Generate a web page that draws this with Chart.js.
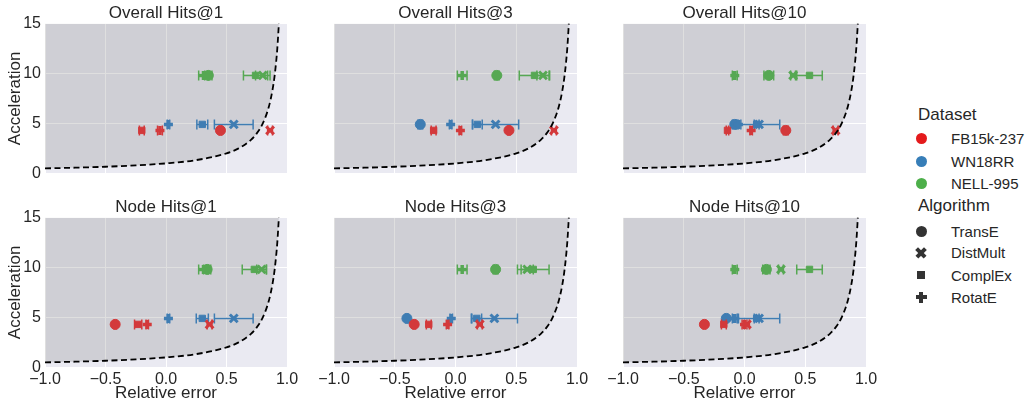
<!DOCTYPE html>
<html>
<head>
<meta charset="utf-8">
<script src="https://cdn.jsdelivr.net/npm/chart.js@4.4.0/dist/chart.umd.min.js"></script>
<style>
  body { margin: 0; background: #fff; width: 1027px; height: 404px; position: relative; overflow: hidden;
         font-family: 'Liberation Sans', Arial, sans-serif; color: #262626; }
  canvas { position: absolute; }
  .lg { position: absolute; white-space: nowrap; line-height: 1; }
  .mk { position: absolute; }
  .bar { position: absolute; left: 50%; top: 50%; }
</style>
</head>
<body>
<div id="legend"></div>
<script>
/* ---------- Datos ---------- */
const panelTitles  = ['Overall Hits@1', 'Overall Hits@3', 'Overall Hits@10', 'Node Hits@1', 'Node Hits@3', 'Node Hits@10'];
const datasetNames = ['FB15k-237', 'WN18RR', 'NELL-995'];
const algorithms   = ['TransE', 'DistMult', 'ComplEx', 'RotatE'];
const acceleration = [4.3, 4.9, 9.8];
const xTicks = [-1, -0.5, 0, 0.5, 1];
const yTicks = [0, 5, 10, 15];

// relative error per panel, order TransE, DistMult, ComplEx, RotatE
const fbError = [
  [0.45, 0.86, -0.20, -0.05],
  [0.44, 0.81, -0.18, 0.04],
  [0.34, 0.75, -0.14, 0.055],
  [-0.42, 0.36, -0.23, -0.155],
  [-0.34, 0.20, -0.22, -0.065],
  [-0.33, 0.02, -0.17, 0.0]
];
const fbSpread = [
  [0.01, 0.02, 0.02, 0.02],
  [0.01, 0.02, 0.02, 0.01],
  [0.02, 0.02, 0.01, 0.01],
  [0.01, 0.02, 0.03, 0.01],
  [0.01, 0.02, 0.02, 0.01],
  [0.01, 0.02, 0.02, 0.02]
];
const wnError = [
  [null, 0.56, 0.30, 0.02],
  [-0.29, 0.33, 0.18, -0.04],
  [-0.08, 0.12, 0.10, -0.05],
  [null, 0.56, 0.30, 0.02],
  [-0.40, 0.32, 0.175, -0.035],
  [-0.15, 0.12, 0.10, -0.08]
];
const wnSpread = [
  [0, 0.16, 0.045, 0.01],
  [0.02, 0.19, 0.04, 0.01],
  [0.02, 0.17, 0.02, 0.02],
  [0, 0.16, 0.05, 0.01],
  [0.01, 0.19, 0.04, 0.01],
  [0.01, 0.17, 0.02, 0.02]
];
const nellError = [
  [0.35, 0.80, 0.74, 0.31],
  [0.34, 0.72, 0.65, 0.055],
  [0.20, 0.40, 0.535, -0.08],
  [0.34, 0.79, 0.73, 0.31],
  [0.33, 0.59, 0.64, 0.055],
  [0.18, 0.30, 0.535, -0.08]
];
const nellSpread = [
  [0.03, 0.06, 0.10, 0.04],
  [0.02, 0.05, 0.125, 0.04],
  [0.04, 0.02, 0.105, 0.02],
  [0.03, 0.04, 0.10, 0.04],
  [0.02, 0.05, 0.13, 0.04],
  [0.03, 0.02, 0.105, 0.02]
];

// dashed boundary curve
const boundaryX = [-1, -0.75, -0.5, -0.25, 0, 0.25, 0.5, 0.6, 0.7, 0.75, 0.8, 0.85, 0.88, 0.9, 0.92, 0.933];
const boundaryY = [0.5, 0.571, 0.667, 0.8, 1, 1.333, 2, 2.5, 3.333, 4, 5, 6.667, 8.333, 10, 12.5, 15];

/* ---------- Estilo ---------- */
const TEXT = '#262626';
const FONT = "'Liberation Sans', Arial, sans-serif";
const legendColors = ['#e41a1c', '#377eb8', '#4daf4a'];
const markColors   = ['#d3393b', '#3f7db3', '#56a853'];
const algStyles  = ['circle', 'crossRot', 'rect', 'cross'];
const algRadius  = [5, 5.5, 4.5, 4.5];
const algBorder  = [1, 3, 1, 3.5];

const errorSets = [[fbError, fbSpread], [wnError, wnSpread], [nellError, nellSpread]];

/* ---------- Plugins ---------- */
const plotBg = {
  id: 'plotBg',
  beforeDraw(chart) {
    const { ctx, chartArea: a } = chart;
    ctx.save();
    ctx.fillStyle = '#eaeaf2';
    ctx.fillRect(a.left, a.top, a.width, a.height);
    ctx.restore();
  }
};

const errorBars = {
  id: 'errorBars',
  beforeDatasetDraw(chart, args) {
    const ds = chart.data.datasets[args.index];
    if (!ds.errors) return;
    const { ctx, scales: { x, y } } = chart;
    ctx.save();
    ctx.strokeStyle = ds.borderColor;
    ctx.lineWidth = 1.5;
    ds.data.forEach((p, i) => {
      const e = ds.errors[i];
      if (!e) return;
      const x0 = x.getPixelForValue(p.x - e), x1 = x.getPixelForValue(p.x + e);
      const py = y.getPixelForValue(p.y);
      ctx.beginPath();
      ctx.moveTo(x0, py); ctx.lineTo(x1, py);
      ctx.moveTo(x0, py - 5); ctx.lineTo(x0, py + 5);
      ctx.moveTo(x1, py - 5); ctx.lineTo(x1, py + 5);
      ctx.stroke();
    });
    ctx.restore();
  }
};

const fmt = v => (v < 0 ? '\u2212' : '') + Math.abs(v).toFixed(1);

/* ---------- Paneles ---------- */
const colLeft  = [0, 289, 578];
const plotW    = [242, 243, 243];
const rowTop    = [0, 194];
const rowHeight = [188, 210];

function buildPanel(p) {
  const row = Math.floor(p / 3), col = p % 3;
  const w = 45 + plotW[col] + 16;
  const cv = document.createElement('canvas');
  cv.width = w; cv.height = rowHeight[row];
  cv.style.left = colLeft[col] + 'px'; cv.style.top = rowTop[row] + 'px';
  cv.style.width = w + 'px'; cv.style.height = rowHeight[row] + 'px';
  document.body.appendChild(cv);

  const datasets = [{
    type: 'line',
    data: boundaryX.map((x, i) => ({ x, y: boundaryY[i] })),
    borderColor: '#000',
    borderWidth: 1.8,
    borderDash: [6, 3.5],
    pointRadius: 0,
    cubicInterpolationMode: 'monotone',
    fill: 'end',
    backgroundColor: 'rgba(128,128,128,0.25)'
  }];

  errorSets.forEach(([vals, errs], d) => {
    const idx = algorithms.map((a, k) => k).filter(k => vals[p][k] !== null);
    datasets.push({
      type: 'scatter',
      label: datasetNames[d],
      data: idx.map(k => ({ x: vals[p][k], y: acceleration[d] })),
      errors: idx.map(k => errs[p][k]),
      pointStyle: idx.map(k => algStyles[k]),
      pointRadius: idx.map(k => algRadius[k]),
      pointBorderWidth: idx.map(k => algBorder[k]),
      backgroundColor: markColors[d],
      borderColor: markColors[d]
    });
  });

  const bottom = row === 1;
  new Chart(cv, {
    type: 'scatter',
    data: { datasets },
    plugins: [plotBg, errorBars],
    options: {
      responsive: false, animation: false, devicePixelRatio: 1,
      layout: { padding: { left: 0, right: 16, top: 0, bottom: 0 } },
      plugins: {
        legend: { display: false },
        tooltip: { enabled: false },
        filler: { drawTime: 'beforeDatasetsDraw' },
        title: {
          display: true, text: panelTitles[p], color: TEXT, fullSize: false,
          font: { family: FONT, size: 17, weight: 'normal' },
          padding: { top: 3, bottom: 0 }
        }
      },
      scales: {
        x: {
          type: 'linear', min: -1, max: 1,
          afterBuildTicks: s => { s.ticks = xTicks.map(v => ({ value: v })); },
          afterFit: s => { s.height = bottom ? 36.6 : 14.6; },
          grid: { color: '#ffffff', lineWidth: 1, drawTicks: false },
          border: { display: false },
          ticks: { display: bottom, color: TEXT, padding: 3, font: { family: FONT, size: 16 }, callback: fmt },
          title: { display: bottom, text: 'Relative error', color: TEXT,
                   font: { family: FONT, size: 17 }, padding: { top: 0, bottom: 0 } }
        },
        y: {
          type: 'linear', min: 0, max: 15,
          afterBuildTicks: s => { s.ticks = yTicks.map(v => ({ value: v })); },
          afterFit: s => { s.width = 45; },
          grid: { color: '#ffffff', lineWidth: 1, drawTicks: false },
          border: { display: false },
          ticks: { display: col === 0, color: TEXT, padding: 4, font: { family: FONT, size: 16 } },
          title: { display: col === 0, text: 'Acceleration', color: TEXT,
                   font: { family: FONT, size: 17 }, padding: { top: 5, bottom: 0 } }
        }
      }
    }
  });
}

panelTitles.forEach((t, p) => buildPanel(p));

/* ---------- Leyenda ---------- */
const legend = document.getElementById('legend');
function addText(txt, left, cy, size) {
  const el = document.createElement('div');
  el.className = 'lg';
  el.textContent = txt;
  el.style.left = left + 'px';
  el.style.top = (cy - size / 2) + 'px';
  el.style.fontSize = size + 'px';
  legend.appendChild(el);
}
function addMarker(shape, color, cx, cy) {
  const m = document.createElement('div');
  m.className = 'mk';
  m.style.left = (cx - 7) + 'px'; m.style.top = (cy - 7) + 'px';
  m.style.width = '14px'; m.style.height = '14px';
  const bar = (w, h, rot, r) => {
    const b = document.createElement('div');
    b.className = 'bar';
    b.style.width = w + 'px'; b.style.height = h + 'px';
    b.style.marginLeft = (-w / 2) + 'px'; b.style.marginTop = (-h / 2) + 'px';
    b.style.background = color;
    if (r) b.style.borderRadius = r;
    if (rot) b.style.transform = 'rotate(' + rot + 'deg)';
    m.appendChild(b);
  };
  if (shape === 'circle') bar(11, 11, 0, '50%');
  else if (shape === 'crossRot') { bar(12, 3.6, 45); bar(12, 3.6, -45); }
  else if (shape === 'rect') bar(8, 8, 0);
  else { bar(11, 4, 0); bar(4, 11, 0); }
  legend.appendChild(m);
}

addText('Dataset', 918, 114, 17);
const dsY = [138.5, 161, 183.5];
datasetNames.forEach((n, i) => {
  addMarker('circle', legendColors[i], 921, dsY[i]);
  addText(n, 951, dsY[i], 15);
});
addText('Algorithm', 918, 205.5, 17);
const algY = [231.5, 252.5, 275, 297];
algorithms.forEach((n, i) => {
  addMarker(algStyles[i], '#333333', 921, algY[i]);
  addText(n, 951, algY[i], 15);
});
</script>
</body>
</html>
